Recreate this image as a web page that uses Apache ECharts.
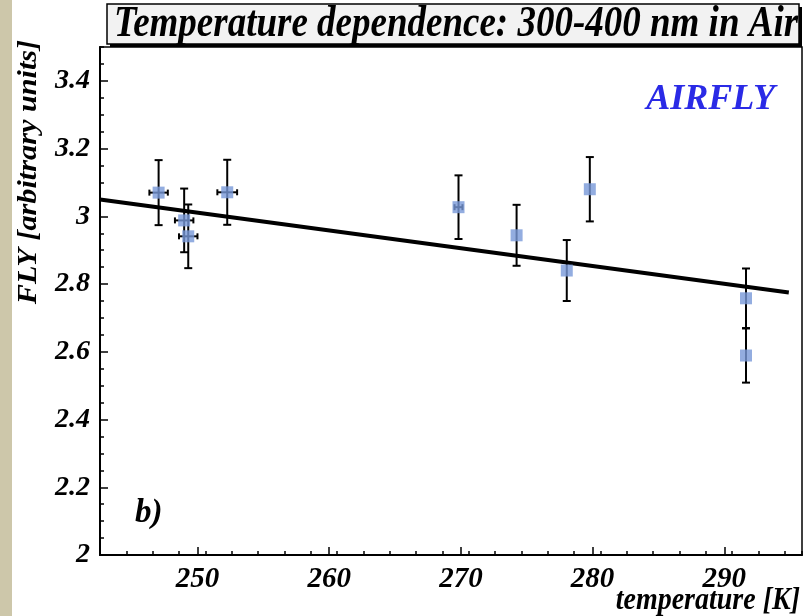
<!DOCTYPE html>
<html>
<head>
<meta charset="utf-8">
<script src="https://cdn.jsdelivr.net/npm/echarts@6/dist/echarts.min.js"></script>
<style>
html,body{margin:0;padding:0;background:#fff;}
#chart{width:808px;height:616px;}
</style>
</head>
<body>
<div id="chart"></div>
<script>
// ---- data ----
const temperatures = [247.05, 248.99, 249.3, 252.26, 269.82, 274.23, 278.04, 279.79, 291.65, 291.65];
const flyValues    = [3.070, 2.988, 2.941, 3.071, 3.027, 2.944, 2.840, 3.080, 2.758, 2.589];
const flyErrors    = [0.096, 0.094, 0.094, 0.096, 0.094, 0.090, 0.090, 0.095, 0.088, 0.080];
const tempErrors   = [0.70, 0.70, 0.70, 0.75, 0.30, 0, 0, 0, 0, 0];
const fitTemps     = [242.6, 294.9];
const fitValues    = [3.050, 2.775];
const xTickValues  = [250, 260, 270, 280, 290];
const yTickValues  = [2.0, 2.2, 2.4, 2.6, 2.8, 3.0, 3.2, 3.4];

const FONT = '"Liberation Serif", "DejaVu Serif", serif';
const chart = echarts.init(document.getElementById('chart'), null, {renderer: 'canvas'});

const pointData = temperatures.map((t, i) => [t, flyValues[i], flyErrors[i], tempErrors[i]]);

function errorBars(params, api) {
  const x = api.value(0), y = api.value(1), ey = api.value(2), ex = api.value(3);
  const top = api.coord([x, y + ey]);
  const bot = api.coord([x, y - ey]);
  const style = {stroke: '#000', lineWidth: 2};
  const children = [
    {type: 'line', shape: {x1: top[0], y1: top[1], x2: bot[0], y2: bot[1]}, style},
    {type: 'line', shape: {x1: top[0] - 4, y1: top[1], x2: top[0] + 4, y2: top[1]}, style},
    {type: 'line', shape: {x1: bot[0] - 4, y1: bot[1], x2: bot[0] + 4, y2: bot[1]}, style}
  ];
  if (ex > 0) {
    const l = api.coord([x - ex, y]);
    const r = api.coord([x + ex, y]);
    children.push(
      {type: 'line', shape: {x1: l[0], y1: l[1], x2: r[0], y2: r[1]}, style},
      {type: 'line', shape: {x1: l[0], y1: l[1] - 3, x2: l[0], y2: l[1] + 3}, style},
      {type: 'line', shape: {x1: r[0], y1: r[1] - 3, x2: r[0], y2: r[1] + 3}, style}
    );
  }
  return {type: 'group', children};
}

const labelStyle = {fontFamily: FONT, fontWeight: 'bold', fontStyle: 'italic', color: '#000'};

const option = {
  animation: false,
  backgroundColor: '#fff',
  grid: {left: 100, right: 6, top: 47, bottom: 61, show: true, borderColor: '#000', borderWidth: 1.5, backgroundColor: '#fff'},
  xAxis: [
    {
      type: 'value', min: 242.6, max: 295.9, interval: 10, position: 'bottom',
      axisLine: {show: true, onZero: false, lineStyle: {color: '#000', width: 2}},
      axisTick: {show: true, inside: true, length: 8, lineStyle: {color: '#000', width: 1.5},
        customValues: xTickValues},
      axisLabel: Object.assign({fontSize: 29, margin: 10, customValues: xTickValues,
        formatter: v => String(v)}, labelStyle),
      splitLine: {show: false}
    },
    {
      type: 'value', min: 242.6, max: 295.9, interval: 2, position: 'bottom',
      axisLine: {show: false}, axisLabel: {show: false}, splitLine: {show: false},
      axisTick: {show: true, inside: true, length: 4, lineStyle: {color: '#000', width: 1.5}}
    }
  ],
  yAxis: [
    {
      type: 'value', min: 2, max: 3.5, interval: 0.2, position: 'left',
      axisLine: {show: true, onZero: false, lineStyle: {color: '#000', width: 2}},
      axisTick: {show: true, inside: true, length: 8, lineStyle: {color: '#000', width: 1.5},
        customValues: yTickValues},
      axisLabel: Object.assign({fontSize: 28, margin: 10, customValues: yTickValues,
        formatter: v => (Math.round(v * 10) / 10).toString()}, labelStyle),
      splitLine: {show: false}
    },
    {
      type: 'value', min: 2, max: 3.5, interval: 0.05, position: 'left',
      axisLine: {show: false}, axisLabel: {show: false}, splitLine: {show: false},
      axisTick: {show: true, inside: true, length: 4, lineStyle: {color: '#000', width: 1.5}}
    }
  ],
  series: [
    {
      type: 'line', xAxisIndex: 0, yAxisIndex: 0,
      data: fitTemps.map((t, i) => [t, fitValues[i]]),
      symbol: 'none', lineStyle: {color: '#000', width: 4}, z: 2
    },
    {
      type: 'custom', xAxisIndex: 0, yAxisIndex: 0,
      data: pointData, renderItem: errorBars, encode: {x: 0, y: 1}, z: 3
    },
    {
      type: 'scatter', xAxisIndex: 0, yAxisIndex: 0,
      data: pointData.map(d => [d[0], d[1]]),
      symbol: 'rect', symbolSize: 12,
      itemStyle: {color: '#7898d8'}, z: 4
    }
  ],
  graphic: [
    {type: 'rect', left: 0, top: 0, shape: {width: 12, height: 616}, style: {fill: '#cdc7aa'}, silent: true},
    {type: 'rect', shape: {x: 110, y: 7, width: 692, height: 40}, style: {fill: '#000'}, z: 10},
    {type: 'rect', shape: {x: 107, y: 4, width: 692, height: 40}, style: {fill: '#f2f2f2', stroke: '#000', lineWidth: 1.5}, z: 11},
    {type: 'text', x: 456, y: 25, scaleY: 1.2, z: 12,
      style: {text: 'Temperature dependence: 300-400 nm in Air', font: 'italic bold 37px ' + FONT,
        fill: '#000', textAlign: 'center', textVerticalAlign: 'middle'}},
    {type: 'text', x: 29, y: 172, rotation: Math.PI / 2, scaleX: 1.12, z: 12,
      style: {text: 'FLY [arbitrary units]', font: 'italic bold 27px ' + FONT,
        fill: '#000', textAlign: 'center', textVerticalAlign: 'middle'}},
    {type: 'text', x: 800, y: 601, scaleY: 1.15, z: 12,
      style: {text: 'temperature [K]', font: 'italic bold 28px ' + FONT,
        fill: '#000', textAlign: 'right', textVerticalAlign: 'middle'}},
    {type: 'text', x: 775, y: 100, z: 12,
      style: {text: 'AIRFLY', font: 'italic bold 36px ' + FONT,
        fill: '#2a2ae6', textAlign: 'right', textVerticalAlign: 'middle'}},
    {type: 'text', x: 135, y: 513, z: 12,
      style: {text: 'b)', font: 'italic bold 33px ' + FONT,
        fill: '#000', textAlign: 'left', textVerticalAlign: 'middle'}}
  ]
};
chart.setOption(option);
</script>
</body>
</html>
